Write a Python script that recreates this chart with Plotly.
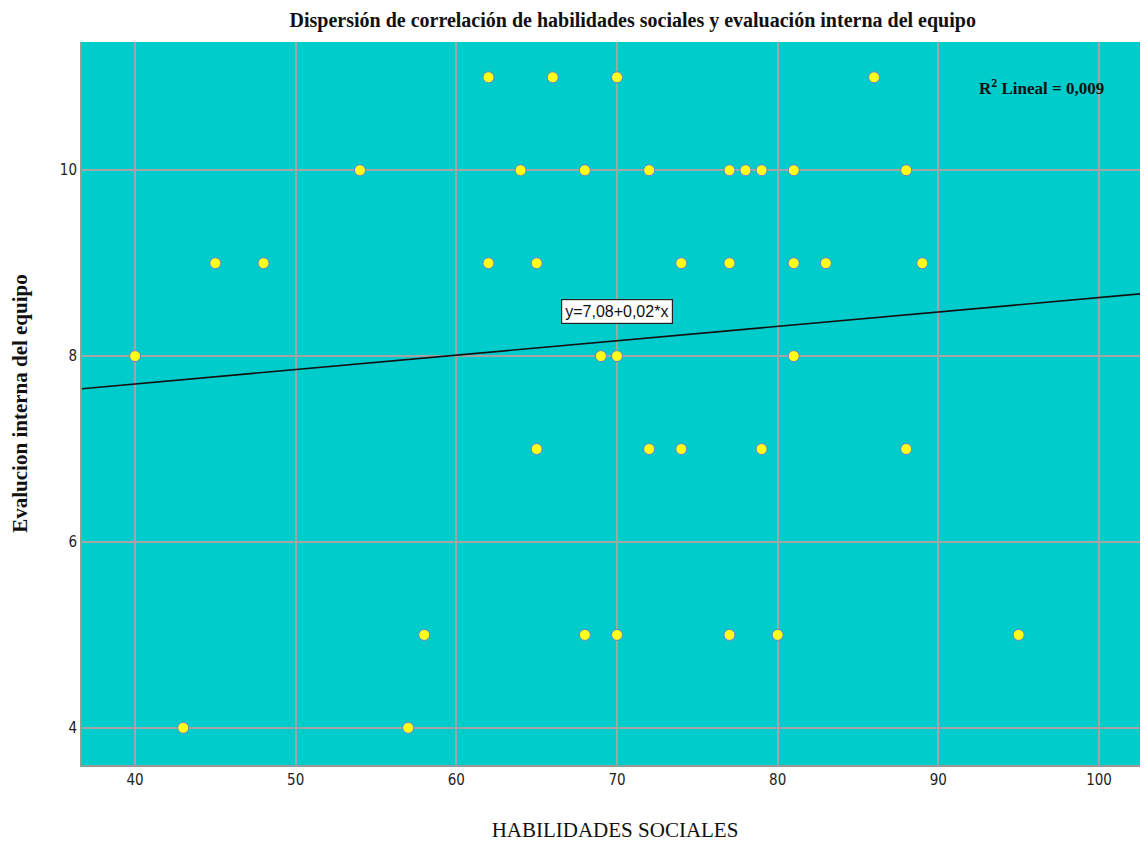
import plotly.graph_objects as go

# Data
x_vals = [62, 66, 70, 86,
          54, 64, 68, 72, 77, 78, 79, 81, 88,
          45, 48, 62, 65, 74, 77, 81, 83, 89,
          40, 69, 70, 81,
          65, 72, 74, 79, 88,
          58, 68, 70, 77, 80, 95,
          43, 57]
y_vals = [11, 11, 11, 11,
          10, 10, 10, 10, 10, 10, 10, 10, 10,
          9, 9, 9, 9, 9, 9, 9, 9, 9,
          8, 8, 8, 8,
          7, 7, 7, 7, 7,
          5, 5, 5, 5, 5, 5,
          4, 4]
fit_intercept = 7.08
fit_slope = 0.0155
x_range = [36.7, 103.05]
y_range = [3.6, 11.38]
x_ticks = [40, 50, 60, 70, 80, 90, 100]
y_ticks = [4, 6, 8, 10]

fig = go.Figure()
fig.add_trace(go.Scatter(
    x=x_range, y=[fit_intercept + fit_slope * v for v in x_range],
    mode="lines", line=dict(color="#111111", width=1.6), hoverinfo="skip"))
fig.add_trace(go.Scatter(
    x=x_vals, y=y_vals, mode="markers",
    marker=dict(color="#FFFF1A", size=11, line=dict(color="#6A7FD0", width=1))))

fig.add_annotation(x=70, y=8.48, text="y=7,08+0,02*x", showarrow=False,
                   font=dict(family="Liberation Sans Narrow, Liberation Sans, Arial", size=16, color="#111"),
                   bgcolor="white", bordercolor="#222", borderwidth=1.2, borderpad=3)
fig.add_annotation(x=96.4, y=10.9, text="<b>R<sup>2</sup> Lineal = 0,009</b>", showarrow=False,
                   font=dict(family="Liberation Serif, Times New Roman", size=17, color="#111"))

tick_font = dict(family="Liberation Sans Narrow, DejaVu Sans Condensed, Liberation Sans", size=15, color="#222")
fig.update_layout(
    width=1140, height=839,
    margin=dict(l=74, r=0, t=34, b=82, autoexpand=False),
    paper_bgcolor="white", plot_bgcolor="#00CCCC",
    showlegend=False,
    title=dict(text="<b>Dispersión de correlación de habilidades sociales y evaluación interna del equipo</b>",
               x=0.548, xanchor="center", y=0.986, yanchor="middle",
               font=dict(family="Liberation Serif, Times New Roman", size=20, color="#111")),
    xaxis=dict(range=x_range, tickvals=x_ticks, showgrid=True, gridcolor="#A4A4A4", gridwidth=1.5,
               zeroline=False, showline=True, linecolor="#999", linewidth=2, ticks="",
               tickfont=tick_font, automargin=False,
               title=dict(text="HABILIDADES SOCIALES", standoff=34,
                          font=dict(family="Liberation Serif, Times New Roman", size=21, color="#111"))),
    yaxis=dict(range=y_range, tickvals=y_ticks, showgrid=True, gridcolor="#A4A4A4", gridwidth=1.5,
               zeroline=False, showline=True, linecolor="#999", linewidth=2, ticks="",
               tickfont=tick_font, automargin=False,
               title=dict(text="<b>Evalucion interna del equipo</b>", standoff=30,
                          font=dict(family="Liberation Serif, Times New Roman", size=21, color="#111"))),
)
fig.write_html("out.html")
